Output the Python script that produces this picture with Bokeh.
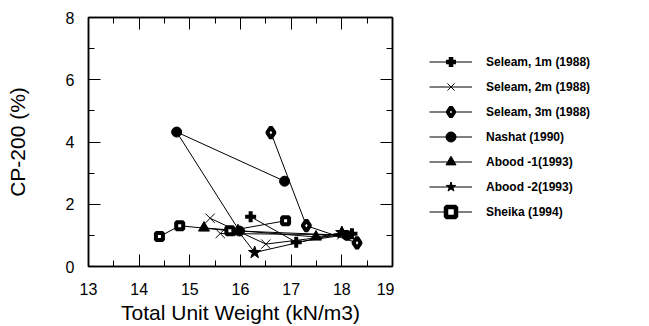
import math
from bokeh.plotting import figure
from bokeh.layouts import row
from bokeh.models import (ColumnDataSource, LinearAxis, FixedTicker, Legend, LegendItem, Range1d)
from bokeh.embed import file_html
from bokeh.resources import INLINE

# ---- data ----
seleam1_x = [16.2, 17.1, 18.2]
seleam1_y = [1.6, 0.78, 1.05]
seleam2_x = [15.4, 16.5, 18.0, 15.6]
seleam2_y = [1.55, 0.72, 1.02, 1.06]
seleam3_x = [16.6, 17.3, 18.3]
seleam3_y = [4.3, 1.31, 0.76]
nashat_x = [16.87, 14.74, 15.98, 18.1]
nashat_y = [2.74, 4.32, 1.14, 1.0]
abood1_x = [15.28, 17.49, 18.0]
abood1_y = [1.24, 0.95, 1.08]
abood2_x = [15.95, 16.28, 18.0]
abood2_y = [1.15, 0.45, 1.09]
sheika_x = [14.4, 14.8, 15.79, 16.89]
sheika_y = [0.96, 1.31, 1.15, 1.47]

labels = ["Seleam, 1m (1988)", "Seleam, 2m (1988)", "Seleam, 3m (1988)",
          "Nashat (1990)", "Abood -1(1993)", "Abood -2(1993)", "Sheika (1994)"]
x_ticks = [13, 14, 15, 16, 17, 18, 19]
y_ticks = [0, 2, 4, 6, 8]

FONT = "Liberation Sans"

p = figure(width=394, height=326, output_backend="svg", toolbar_location=None,
           x_range=Range1d(13, 19), y_range=Range1d(0, 8),
           min_border_left=88, min_border_right=2, min_border_top=17, min_border_bottom=60)
p.grid.visible = False
p.outline_line_color = "black"
p.outline_line_width = 1.5
p.background_fill_color = "white"
p.border_fill_color = "white"

p.xaxis.ticker = FixedTicker(ticks=x_ticks, minor_ticks=[13.5, 14.5, 15.5, 16.5, 17.5, 18.5])
p.yaxis.ticker = FixedTicker(ticks=y_ticks, minor_ticks=[1, 3, 5, 7])
p.xaxis.axis_label = "Total Unit Weight (kN/m3)"
p.yaxis.axis_label = "CP-200 (%)"
for ax in [p.xaxis[0], p.yaxis[0]]:
    ax.major_tick_in = 12
    ax.major_tick_out = 0
    ax.minor_tick_in = 6
    ax.minor_tick_out = 0
    ax.axis_line_color = "black"
    ax.axis_line_width = 1.5
    ax.major_tick_line_color = "black"
    ax.minor_tick_line_color = "black"
    ax.major_label_text_font = FONT
    ax.major_label_text_font_size = "16px"
    ax.major_label_text_color = "black"
    ax.axis_label_text_font = FONT
    ax.axis_label_text_font_size = "21px"
    ax.axis_label_text_font_style = "normal"
    ax.axis_label_text_color = "black"
p.xaxis.major_label_standoff = 16
p.yaxis.major_label_standoff = 14
p.xaxis.axis_label_standoff = 3
p.yaxis.axis_label_standoff = 34

for loc, tk in [("above", FixedTicker(ticks=x_ticks, minor_ticks=[13.5, 14.5, 15.5, 16.5, 17.5, 18.5])),
                ("right", FixedTicker(ticks=y_ticks, minor_ticks=[1, 3, 5, 7]))]:
    ax = LinearAxis(ticker=tk)
    ax.major_tick_in = 12
    ax.major_tick_out = 0
    ax.minor_tick_in = 6
    ax.minor_tick_out = 0
    ax.axis_line_color = "black"
    ax.axis_line_width = 1.5
    ax.major_label_text_font_size = "0px"
    ax.major_label_standoff = 0
    ax.major_label_overrides = {t: "" for t in tk.ticks}
    p.add_layout(ax, loc)

series = [
    (seleam1_x, seleam1_y, dict(marker="cross", size=11, line_width=4), dict(marker="cross", line_width=4.5)),
    (seleam2_x, seleam2_y, dict(marker="x", size=13, line_width=1), dict(marker="x", line_width=1)),
    (seleam3_x, seleam3_y, dict(marker="diamond", size=11, line_width=4, fill_color="white"),
     dict(marker="diamond", line_width=4, fill_color="white")),
    (nashat_x, nashat_y, dict(marker="circle", size=10, line_width=1), dict(marker="circle", line_width=1)),
    (abood1_x, abood1_y, dict(marker="triangle", size=11, line_width=1), dict(marker="triangle", line_width=1)),
    (abood2_x, abood2_y, dict(marker="star", size=13, line_width=1), dict(marker="star", line_width=1)),
    (sheika_x, sheika_y, dict(marker="square", size=7, line_width=4, fill_color="white"),
     dict(marker="square", line_width=4.5, fill_color="white")),
]

# legend panel: a second, axis-less figure to the right of the chart
lg = figure(width=255, height=326, output_backend="svg", toolbar_location=None,
            x_range=Range1d(0, 1), y_range=Range1d(0, 1), x_axis_type=None, y_axis_type=None,
            min_border=0)
lg.grid.visible = False
lg.outline_line_color = None
lg.border_fill_color = "white"
lg.background_fill_color = "white"

items = []
for (xs, ys, mk, lmk), lab in zip(series, labels):
    src = ColumnDataSource(dict(x=xs, y=ys))
    p.line("x", "y", source=src, line_color="black", line_width=1)
    kw = dict(mk)
    kw.setdefault("fill_color", "black")
    p.scatter("x", "y", source=src, line_color="black", **kw)
    # legend-only renderers (a single NaN point, never drawn)
    esrc = ColumnDataSource(dict(x=[math.nan], y=[math.nan]))
    lr = lg.line("x", "y", source=esrc, line_color="black", line_width=1)
    lkw = dict(lmk)
    lkw.setdefault("fill_color", "black")
    mr = lg.scatter("x", "y", source=esrc, line_color="black", **lkw)
    items.append(LegendItem(label=lab, renderers=[lr, mr]))

legend = Legend(items=items, location=(35, 42), orientation="vertical")
legend.margin = 0
legend.padding = 0
legend.spacing = 0
legend.glyph_width = 43
legend.glyph_height = 25
legend.label_height = 20
legend.label_standoff = 14
legend.label_text_font = FONT
legend.label_text_font_size = "12px"
legend.label_text_font_style = "bold"
legend.label_text_color = "black"
legend.border_line_color = None
legend.background_fill_alpha = 0
lg.add_layout(legend)

layout = row(p, lg)
open("out.html", "w").write(file_html(layout, INLINE))
